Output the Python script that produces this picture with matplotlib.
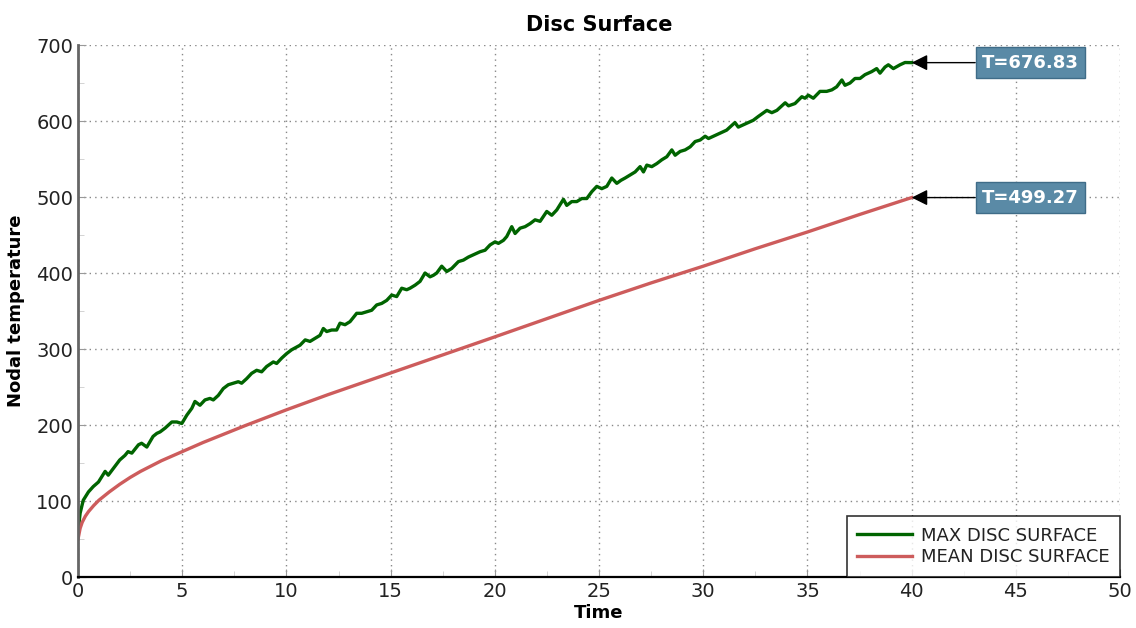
##
## === DEPENDENCIES
##

import matplotlib

matplotlib.use("Agg")
import matplotlib.pyplot as plt
import numpy
from matplotlib.ticker import MultipleLocator

##
## === DATA
##

max_time = [
    0.0, 0.1, 0.25, 0.5, 0.73, 0.98, 1.3, 1.45, 1.7, 2.0, 2.25, 2.4, 2.58, 2.9,
    3.05, 3.3, 3.6, 3.78, 3.94, 4.18, 4.5, 4.74, 4.98, 5.22, 5.46, 5.61, 5.85,
    6.09, 6.33, 6.49, 6.73, 6.97, 7.21, 7.45, 7.69, 7.85, 8.09, 8.33, 8.57, 8.81,
    9.05, 9.37, 9.53, 9.77, 10.01, 10.25, 10.45, 10.65, 10.9, 11.13, 11.37,
    11.61, 11.77, 11.93, 12.17, 12.41, 12.57, 12.81, 13.05, 13.37, 13.61, 13.85,
    14.09, 14.33, 14.57, 14.81, 15.05, 15.29, 15.53, 15.77, 15.93, 16.17, 16.41,
    16.65, 16.89, 17.05, 17.21, 17.45, 17.69, 17.93, 18.25, 18.49, 18.73, 18.97,
    19.29, 19.53, 19.77, 20.01, 20.17, 20.41, 20.57, 20.81, 20.97, 21.21, 21.45,
    21.69, 21.93, 22.17, 22.49, 22.73, 22.97, 23.29, 23.45, 23.69, 23.93, 24.17,
    24.41, 24.65, 24.89, 25.13, 25.37, 25.61, 25.85, 26.05, 26.25, 26.49, 26.73,
    26.97, 27.13, 27.29, 27.53, 27.77, 28.01, 28.25, 28.49, 28.65, 28.89, 29.13,
    29.37, 29.61, 29.85, 30.09, 30.25, 30.49, 30.8, 31.12, 31.52, 31.68, 32.08,
    32.4, 32.64, 33.05, 33.29, 33.53, 33.93, 34.09, 34.4, 34.73, 34.88, 35.04,
    35.28, 35.6, 35.92, 36.17, 36.4, 36.65, 36.8, 37.04, 37.28, 37.52, 37.76,
    38.08, 38.32, 38.48, 38.72, 38.88, 39.12, 39.44, 39.68, 40.0,
]
max_temp = [
    60, 84, 101, 112, 119, 125, 139, 134, 143, 154, 160, 165, 163, 174,
    176, 171, 185, 189, 191, 196, 204, 204, 202, 213, 222, 231, 226,
    233, 235, 233, 239, 248, 253, 255, 257, 255, 261, 268, 272, 270,
    277, 283, 281, 288, 294, 299, 302, 305, 312, 310, 314,
    318, 327, 323, 325, 325, 334, 332, 336, 347, 347, 349,
    351, 358, 360, 364, 371, 369, 380, 378, 380, 384, 389,
    400, 395, 397, 400, 409, 402, 406, 415, 417, 421, 424,
    428, 430, 437, 441, 439, 443, 448, 461, 452, 459, 461,
    465, 470, 468, 481, 476, 483, 497, 489, 494, 494, 498,
    498, 507, 514, 511, 514, 525, 518, 522, 525, 529, 533,
    540, 533, 542, 540, 544, 549, 553, 562, 555, 560, 562,
    566, 573, 575, 580, 577, 580, 584, 588, 598, 592, 597,
    601, 606, 614, 611, 614, 624, 620, 623, 632, 630, 634,
    630, 639, 639, 641, 645, 654, 647, 650, 656, 656, 661,
    665, 669, 663, 671, 674, 669, 674, 677, 676.83,
]

mean_time = [
    0.0, 0.1, 0.2, 0.35, 0.5, 0.75, 1.0, 1.5, 2.0, 2.5, 3.0, 4.0, 5.0, 6.0, 7.0,
    8.0, 10.0, 12.0, 14.0, 16.0, 18.0, 20.0, 22.5, 25.0, 27.5, 30.0, 32.5, 35.0,
    37.5, 40.0,
]
mean_temp = [
    50, 64, 72, 80, 86, 94, 101, 112, 122, 131, 139, 153, 165, 177, 188,
    199, 220, 240, 259, 278, 297, 316, 340, 364, 387, 409, 432, 454,
    477, 499.27,
]

series_labels = ["MAX DISC SURFACE", "MEAN DISC SURFACE"]

##
## === PLOT HELPERS
##


def _annotate_end(
    ax,
    time_values,
    temp_values,
    line_color,
) -> None:
    end_time = time_values[-1]
    end_temp = temp_values[-1]
    ax.annotate(
        f"T={end_temp:.2f}",
        xy=(end_time, end_temp),
        xytext=(45.7, end_temp),
        ha="center",
        va="center",
        color="white",
        fontsize=13,
        fontweight="bold",
        bbox=dict(
            boxstyle="square,pad=0.35",
            facecolor="#5a8aa6",
            edgecolor="#3f6c88",
            linewidth=1.0,
        ),
        arrowprops=dict(
            arrowstyle="-|>",
            color="black",
            edgecolor=line_color,
            facecolor="black",
            linewidth=1.0,
            mutation_scale=24,
            shrinkA=0,
            shrinkB=0,
        ),
    )


##
## === MAIN
##


def main() -> None:
    fig = plt.figure(figsize=(11.36, 6.28), dpi=100)
    ax = fig.add_axes([0.0687, 0.0812, 0.9173, 0.8471])

    ax.plot(
        numpy.array(max_time),
        numpy.array(max_temp),
        color="#006400",
        linewidth=2.4,
        label=series_labels[0],
    )
    ax.plot(
        numpy.array(mean_time),
        numpy.array(mean_temp),
        color="#cd5c5c",
        linewidth=2.4,
        label=series_labels[1],
    )

    _annotate_end(ax, max_time, max_temp, "#777777")
    _annotate_end(ax, mean_time, mean_temp, "#222222")

    ax.set_xlim(0, 50)
    ax.set_ylim(0, 700)
    ax.xaxis.set_major_locator(MultipleLocator(5))
    ax.xaxis.set_minor_locator(MultipleLocator(2.5))
    ax.yaxis.set_major_locator(MultipleLocator(100))
    ax.yaxis.set_minor_locator(MultipleLocator(50))
    ax.tick_params(which="both", direction="in", labelsize=14, colors="#222222")
    ax.tick_params(which="major", length=6, color="#999999")
    ax.tick_params(which="minor", length=4, color="#cccccc")
    ax.grid(
        True,
        which="major",
        linestyle=(0, (1.0, 3.0)),
        color="#888888",
        linewidth=1.0,
    )

    ax.spines["top"].set_visible(False)
    ax.spines["right"].set_visible(False)
    ax.spines["left"].set_color("#666666")
    ax.spines["left"].set_linewidth(2.0)
    ax.spines["bottom"].set_color("black")
    ax.spines["bottom"].set_linewidth(1.6)

    ax.set_title("Disc Surface", fontsize=15, fontweight="bold", pad=10)
    ax.set_xlabel("Time", fontsize=13, fontweight="bold", labelpad=2)
    ax.set_ylabel("Nodal temperature", fontsize=13, fontweight="bold", labelpad=8)

    legend = ax.legend(
        loc="lower right",
        fontsize=13,
        frameon=True,
        fancybox=False,
        borderaxespad=0.0,
        handlelength=3.0,
        handletextpad=0.5,
        labelspacing=0.2,
        borderpad=0.6,
    )
    legend.get_frame().set_edgecolor("black")
    legend.get_frame().set_linewidth(1.2)
    for text in legend.get_texts():
        text.set_color("#222222")

    fig_name = "out.png"
    fig.savefig(fig_name, dpi=100)
    print(f"\t> saved: {fig_name}")


if __name__ == "__main__":
    main()
